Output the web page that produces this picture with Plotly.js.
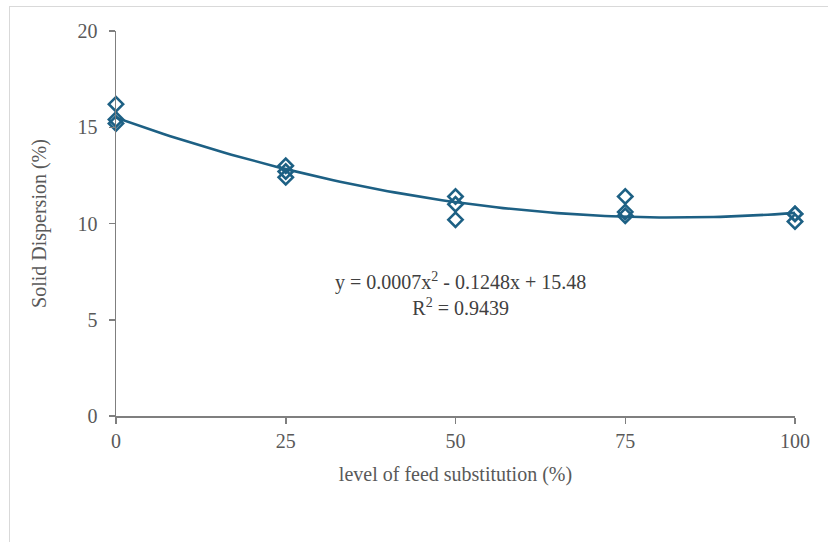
<!DOCTYPE html>
<html>
<head>
<meta charset="utf-8">
<script src="https://cdn.plot.ly/plotly-3.0.1.min.js"></script>
<style>
html,body{margin:0;padding:0;background:#fff;overflow:hidden;}
#frame{position:absolute;left:9px;top:6px;width:900px;height:600px;border:1.5px solid #d9d9d9;}
#chart{position:absolute;left:0;top:0;width:828px;height:542px;}
</style>
</head>
<body>
<div id="frame"></div>
<div id="chart"></div>
<script>
// Observed data
var levels = [0, 0, 0, 25, 25, 25, 50, 50, 50, 75, 75, 75, 100, 100, 100];
var dispersion = [16.2, 15.4, 15.2, 13.0, 12.7, 12.4, 11.4, 11.0, 10.2, 11.4, 10.6, 10.4, 10.5, 10.5, 10.1];
var xTicks = [0, 25, 50, 75, 100];
var yTicks = [0, 5, 10, 15, 20];
var equationText = 'y = 0.0007x<sup>2</sup> - 0.1248x + 15.48';
var r2Text = 'R<sup>2</sup> = 0.9439';

// Quadratic least-squares fit of the data (the trendline)
function quadFit(x, y) {
  var n = x.length, s = [0,0,0,0,0], t = [0,0,0];
  for (var i = 0; i < n; i++) {
    var p = 1;
    for (var k = 0; k < 5; k++) { s[k] += p; if (k < 3) t[k] += p * y[i]; p *= x[i]; }
  }
  var A = [[s[0],s[1],s[2],t[0]],[s[1],s[2],s[3],t[1]],[s[2],s[3],s[4],t[2]]];
  for (var c = 0; c < 3; c++) {
    for (var r = c + 1; r < 3; r++) {
      var f = A[r][c] / A[c][c];
      for (var j = c; j < 4; j++) A[r][j] -= f * A[c][j];
    }
  }
  var b = [0,0,0];
  for (var r2 = 2; r2 >= 0; r2--) {
    var v = A[r2][3];
    for (var j2 = r2 + 1; j2 < 3; j2++) v -= A[r2][j2] * b[j2];
    b[r2] = v / A[r2][r2];
  }
  return b;
}
var coef = quadFit(levels, dispersion);
var fitX = [], fitY = [];
for (var xi = 0; xi <= 100; xi += 1) {
  fitX.push(xi);
  fitY.push(coef[0] + coef[1] * xi + coef[2] * xi * xi);
}

var col = '#1d6084';
var serif = 'Liberation Serif';
var data = [
  {x: fitX, y: fitY, type: 'scatter', mode: 'lines', line: {color: col, width: 2.6}, hoverinfo: 'skip', cliponaxis: false},
  {x: levels, y: dispersion, type: 'scatter', mode: 'markers', cliponaxis: false,
   marker: {symbol: 'diamond-open', size: 11, color: col, line: {color: col, width: 2.6}}}
];

var tickFont = {family: serif, size: 20, color: '#595959'};
var layout = {
  width: 828, height: 542,
  paper_bgcolor: 'rgba(0,0,0,0)', plot_bgcolor: 'rgba(0,0,0,0)',
  showlegend: false,
  margin: {l: 116, r: 33, t: 31, b: 126},
  xaxis: {
    range: [0, 100], tickvals: xTicks, ticktext: xTicks.map(String),
    showgrid: false, zeroline: false, showline: true, linecolor: '#7f7f7f', linewidth: 1.5,
    ticks: 'outside', ticklen: 6, tickcolor: '#7f7f7f', tickwidth: 1.5,
    ticklabelstandoff: 0,
    tickfont: tickFont,
    title: {text: 'level of feed substitution (%)', font: {family: serif, size: 20, color: '#595959'}, standoff: 16}
  },
  yaxis: {
    range: [0, 20], tickvals: yTicks, ticktext: yTicks.map(String),
    showgrid: false, zeroline: false, showline: true, linecolor: '#7f7f7f', linewidth: 1.5,
    ticks: 'outside', ticklen: 6, tickcolor: '#7f7f7f', tickwidth: 1.5,
    ticklabelstandoff: 7,
    tickfont: tickFont,
    title: {text: 'Solid Dispersion (%)', font: {family: serif, size: 20, color: '#595959'}, standoff: 25}
  },
  annotations: [
    {xref: 'x', yref: 'y', x: 50.7, y: 6.35, text: equationText + '<br>' + r2Text, showarrow: false,
     align: 'center', xanchor: 'center', yanchor: 'middle',
     font: {family: serif, size: 20, color: '#404040'}}
  ]
};
Plotly.newPlot('chart', data, layout, {displayModeBar: false, staticPlot: true});
</script>
</body>
</html>
